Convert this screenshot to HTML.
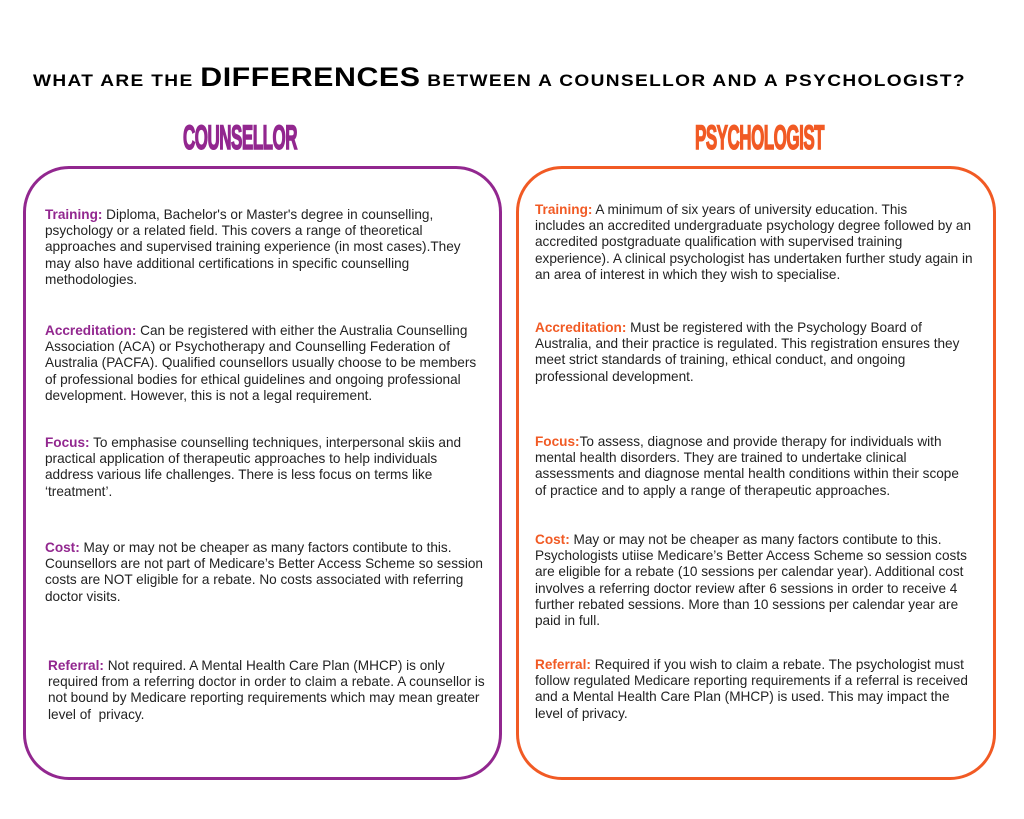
<!DOCTYPE html>
<html><head><meta charset="utf-8"><style>
body{margin:0;width:1024px;height:819px;background:#fff;position:relative;overflow:hidden;font-family:"Liberation Sans",Arial,sans-serif;color:#222}
.t{position:absolute;top:62px;left:33px;white-space:nowrap;font-weight:bold;color:#000;font-size:17px;letter-spacing:1.2px;transform:scaleX(1.124);transform-origin:left top}
.t b{font-size:27px;letter-spacing:0.5px}
.h{position:absolute;font-weight:bold;font-size:34px;transform:scaleX(0.5);transform-origin:left top;white-space:nowrap;letter-spacing:-1px;font-family:"Liberation Sans",sans-serif;-webkit-text-stroke:1.5px currentColor}
.box{position:absolute;top:166px;height:614px;border-radius:46px;border:3px solid;box-sizing:border-box}
.p{position:absolute;font-size:13.6px;line-height:16.2px;white-space:nowrap}
.l .k{color:#92278f;font-weight:bold}
.r .k{color:#f15a24;font-weight:bold}
</style></head><body>
<div class="t">WHAT ARE THE <b>DIFFERENCES</b> BETWEEN A COUNSELLOR AND A PSYCHOLOGIST?</div>
<div class="h" style="left:183px;top:119px;color:#92278f">COUNSELLOR</div>
<div class="h" style="left:695px;top:119px;color:#f15a24">PSYCHOLOGIST</div>
<div class="box" style="left:23px;width:479px;border-color:#92278f"></div>
<div class="box" style="left:516px;width:480px;border-color:#f15a24"></div>
<div class="l">
<div class="p" style="left:45px;top:207px"><span class="k">Training:</span> Diploma, Bachelor's or Master's degree in counselling,<br>psychology or a related field. This covers a range of theoretical<br>approaches and supervised training experience (in most cases).They<br>may also have additional certifications in specific counselling<br>methodologies.</div>
<div class="p" style="left:45px;top:323px"><span class="k">Accreditation:</span> Can be registered with either the Australia Counselling<br>Association (ACA) or Psychotherapy and Counselling Federation of<br>Australia (PACFA). Qualified counsellors usually choose to be members<br>of professional bodies for ethical guidelines and ongoing professional<br>development. However, this is not a legal requirement.</div>
<div class="p" style="left:45px;top:435px"><span class="k">Focus:</span> To emphasise counselling techniques, interpersonal skiis and<br>practical application of therapeutic approaches to help individuals<br>address various life challenges. There is less focus on terms like<br>‘treatment’.</div>
<div class="p" style="left:45px;top:540px"><span class="k">Cost:</span> May or may not be cheaper as many factors contibute to this.<br>Counsellors are not part of Medicare’s Better Access Scheme so session<br>costs are NOT eligible for a rebate. No costs associated with referring<br>doctor visits.</div>
<div class="p" style="left:48px;top:658px"><span class="k">Referral:</span> Not required. A Mental Health Care Plan (MHCP) is only<br>required from a referring doctor in order to claim a rebate. A counsellor is<br>not bound by Medicare reporting requirements which may mean greater<br>level of &nbsp;privacy.</div>
</div>
<div class="r">
<div class="p" style="left:535px;top:202px"><span class="k">Training:</span> A minimum of six years of university education. This<br>includes an accredited undergraduate psychology degree followed by an<br>accredited postgraduate qualification with supervised training<br>experience). A clinical psychologist has undertaken further study again in<br>an area of interest in which they wish to specialise.</div>
<div class="p" style="left:535px;top:320px"><span class="k">Accreditation:</span> Must be registered with the Psychology Board of<br>Australia, and their practice is regulated. This registration ensures they<br>meet strict standards of training, ethical conduct, and ongoing<br>professional development.</div>
<div class="p" style="left:535px;top:434px"><span class="k">Focus:</span>To assess, diagnose and provide therapy for individuals with<br>mental health disorders. They are trained to undertake clinical<br>assessments and diagnose mental health conditions within their scope<br>of practice and to apply a range of therapeutic approaches.</div>
<div class="p" style="left:535px;top:532px"><span class="k">Cost:</span> May or may not be cheaper as many factors contibute to this.<br>Psychologists utiise Medicare’s Better Access Scheme so session costs<br>are eligible for a rebate (10 sessions per calendar year). Additional cost<br>involves a referring doctor review after 6 sessions in order to receive 4<br>further rebated sessions. More than 10 sessions per calendar year are<br>paid in full.</div>
<div class="p" style="left:535px;top:657px"><span class="k">Referral:</span> Required if you wish to claim a rebate. The psychologist must<br>follow regulated Medicare reporting requirements if a referral is received<br>and a Mental Health Care Plan (MHCP) is used. This may impact the<br>level of privacy.</div>
</div>
</body></html>
